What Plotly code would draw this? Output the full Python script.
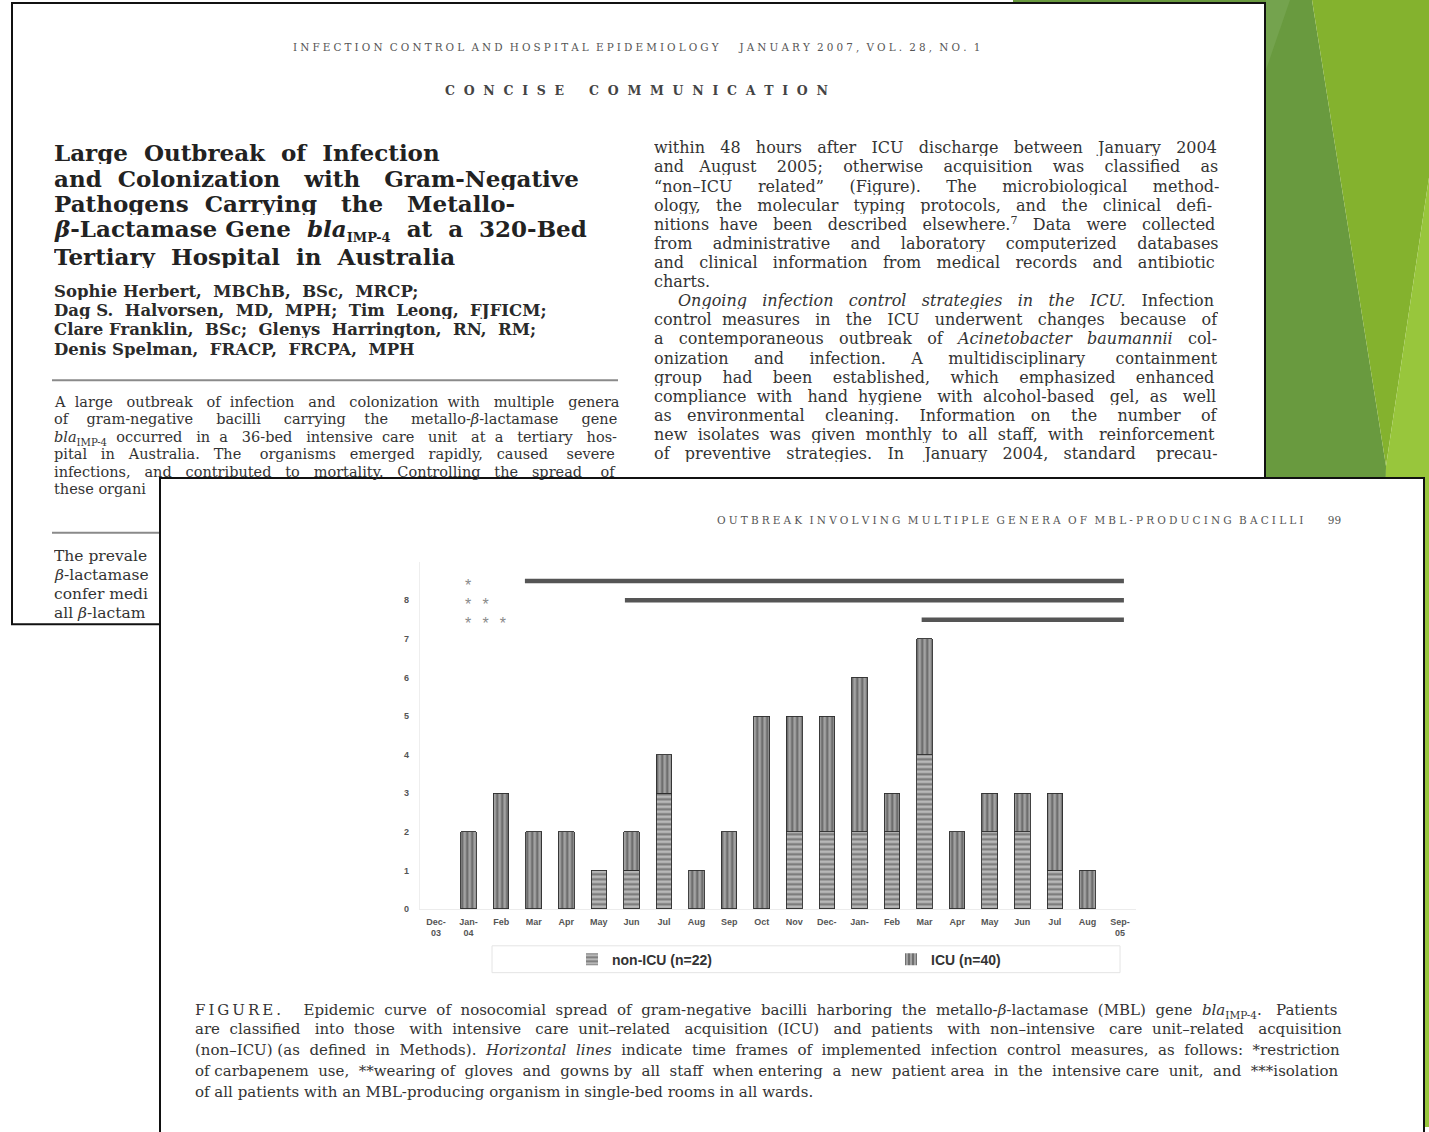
import re
import plotly.graph_objects as go

W, H = 1429, 1132

# ---------------- chart data ----------------
months = ["Dec-<br>03", "Jan-<br>04", "Feb", "Mar", "Apr", "May", "Jun", "Jul", "Aug", "Sep",
          "Oct", "Nov", "Dec-", "Jan-", "Feb", "Mar", "Apr", "May", "Jun", "Jul", "Aug", "Sep-<br>05"]
non_icu = [0, 0, 0, 0, 0, 1, 1, 3, 0, 0, 0, 2, 2, 2, 2, 4, 0, 2, 2, 1, 0, 0]
icu     = [0, 2, 3, 2, 2, 0, 1, 1, 1, 2, 5, 3, 3, 4, 1, 3, 2, 1, 1, 2, 1, 0]
y_ticks = [0, 1, 2, 3, 4, 5, 6, 7, 8]

# infection-control measures (horizontal lines): start / end (month index) and level
measure_marks = ["*", "*\u2002\u2009*", "*\u2002\u2009*\u2002\u2009*"]
measure_start = [2.73, 5.80, 14.91]
measure_end   = [21.12, 21.12, 21.12]
measure_level = [8.5, 8.0, 7.5]

x_idx = list(range(len(months)))


def px(x):
    return x / W


def py(y):
    return 1 - y / H


def spaced(s, sep="\u2009", wordsep="\u2002\u2002"):
    words = s.split(" ")
    return wordsep.join(sep.join(list(w)) for w in words)


# approximate DejaVu Serif advance widths (em) for justification
_W = {'a': .596, 'b': .640, 'c': .561, 'd': .640, 'e': .592, 'f': .370, 'g': .640, 'h': .644, 'i': .320,
      'j': .308, 'k': .605, 'l': .320, 'm': .948, 'n': .644, 'o': .602, 'p': .640, 'q': .640, 'r': .478,
      's': .513, 't': .402, 'u': .644, 'v': .566, 'w': .836, 'x': .566, 'y': .566, 'z': .521,
      'A': .722, 'B': .732, 'C': .731, 'D': .831, 'E': .729, 'F': .690, 'G': .776, 'H': .867, 'I': .402,
      'J': .409, 'K': .743, 'L': .655, 'M': 1.029, 'N': .833, 'O': .790, 'P': .659, 'Q': .790, 'R': .724,
      'S': .653, 'T': .694, 'U': .807, 'V': .722, 'W': 1.05, 'X': .719, 'Y': .681, 'Z': .673,
      ' ': .318, ',': .318, '.': .318, '-': .339, '–': .5, '(': .39, ')': .39, ';': .337, ':': .337,
      '“': .48, '”': .48, '*': .5, 'β': .64, '\u2003': 1.0, '\u2002': .5, '\u2009': .2, '\u200a': .1,
      '\u00a0': .318}


def est_width(text, size, bold=False):
    t = re.sub(r"<sub>(.*?)</sub>", lambda m: "\x01" * len(re.sub(r"<[^>]+>", "", m.group(1))), text)
    t = re.sub(r"<sup>(.*?)</sup>", lambda m: "\x01" * len(m.group(1)), t)
    t = re.sub(r"<[^>]+>", "", t)
    w = 0.0
    for ch in t:
        if ch == "\x01":
            w += 0.42
        elif ch.isdigit():
            w += .636
        else:
            w += _W.get(ch, .6)
    return w * size * (1.1 if bold else 1.0)


def justify(text, size, target, bold=False):
    deficit = target - est_width(text, size, bold)
    n = len(re.findall(r" (?![^<]*>)", text))
    unit = .318 * size
    k = int(round(deficit / unit)) if deficit > 0 else 0
    if n == 0 or k <= 0:
        return text
    parts = re.split(r" (?![^<]*>)", text)
    out = parts[0]
    for i, p in enumerate(parts[1:]):
        extra = (i + 1) * k // n - i * k // n
        out += " " + "\u00a0" * extra + p
    return out


fig = go.Figure()

fig.add_trace(go.Bar(
    x=x_idx, y=non_icu, name="non-ICU (n=22)", width=0.48,
    marker=dict(color="#b8b8b8", line=dict(color="#2e2e2e", width=[0.9 if v else 0 for v in non_icu]),
                pattern=dict(shape="-", size=5, solidity=0.42, fgcolor="#333", bgcolor="#b8b8b8")),
))
fig.add_trace(go.Bar(
    x=x_idx, y=icu, name="ICU (n=40)", width=0.48,
    marker=dict(color="#a0a0a0", line=dict(color="#2e2e2e", width=[0.9 if v else 0 for v in icu]),
                pattern=dict(shape="|", size=5, solidity=0.42, fgcolor="#2a2a2a", bgcolor="#a2a2a2")),
))
for s, e, lv in zip(measure_start, measure_end, measure_level):
    fig.add_trace(go.Scatter(x=[s, e], y=[lv, lv], mode="lines",
                             line=dict(color="#555", width=4.5), showlegend=False, hoverinfo="skip"))

annotations = []
for m, lv in zip(measure_marks, measure_level):
    annotations.append(dict(x=0.82, y=lv, xref="x", yref="y", text=m, showarrow=False,
                            xanchor="left", yanchor="middle", yshift=-4,
                            font=dict(family="Liberation Sans", size=16, color="#8a8a8a")))

# ---------------- page decorations ----------------
shapes = []
shapes.append(dict(type="path", xref="paper", yref="paper", layer="below",
                   path=f"M {px(1013)} {py(0)} L {px(1312)} {py(0)} L {px(1386)} {py(468)} L {px(1380)} {py(1132)} L {px(1013)} {py(1132)} Z",
                   fillcolor="#699a3f", line=dict(width=0)))
shapes.append(dict(type="path", xref="paper", yref="paper", layer="below",
                   path=f"M {px(1266)} {py(0)} L {px(1290)} {py(0)} L {px(1266)} {py(70)} Z",
                   fillcolor="#74a34e", line=dict(width=0)))
shapes.append(dict(type="path", xref="paper", yref="paper", layer="below",
                   path=f"M {px(1312)} {py(0)} L {px(1429)} {py(0)} L {px(1429)} {py(178)} L {px(1386)} {py(468)} Z",
                   fillcolor="#84b22e", line=dict(width=0)))
shapes.append(dict(type="path", xref="paper", yref="paper", layer="below",
                   path=f"M {px(1429)} {py(178)} L {px(1386)} {py(468)} L {px(1370)} {py(1132)} L {px(1429)} {py(1132)} Z",
                   fillcolor="#98c63c", line=dict(width=0)))
# page 1
shapes.append(dict(type="rect", xref="paper", yref="paper", layer="below",
                   x0=px(12), x1=px(1265), y0=py(627), y1=py(3),
                   fillcolor="white", line=dict(color="#111", width=2)))
shapes.append(dict(type="line", xref="paper", yref="paper", layer="below",
                   x0=px(52), x1=px(618), y0=py(382), y1=py(382), line=dict(color="#8a8a8a", width=2)))
shapes.append(dict(type="line", xref="paper", yref="paper", layer="below",
                   x0=px(52), x1=px(300), y0=py(535), y1=py(535), line=dict(color="#8a8a8a", width=2)))
# page 2
shapes.append(dict(type="rect", xref="paper", yref="paper", layer="below",
                   x0=px(160), x1=px(1424), y0=py(1145), y1=py(480),
                   fillcolor="white", line=dict(color="#111", width=2)))
# legend box
shapes.append(dict(type="rect", xref="paper", yref="paper", layer="below",
                   x0=px(492), x1=px(1120), y0=py(977), y1=py(950),
                   fillcolor="white", line=dict(color="#e4e4e4", width=1)))

TXT = "#2b2b2b"
SERIF = "DejaVu Serif"


def add_text(x, y, text, size, anchor="left", color=TXT, family=SERIF, weight="normal", box_h=None, yshift=0):
    a = dict(x=px(x), y=py(y), xref="paper", yref="paper", text=text, showarrow=False,
             xanchor=anchor, yanchor="middle", align=anchor, yshift=yshift,
             font=dict(family=family, size=size, color=color, weight=weight))
    if box_h:
        a["height"] = box_h
    annotations.append(a)


# page 1 header
add_text(636, 47, spaced("INFECTION CONTROL AND HOSPITAL EPIDEMIOLOGY", sep="\u2009\u200a", wordsep="\u2002\u2009")
         + "\u2003\u2003" + spaced("JANUARY 2007, VOL. 28, NO. 1", sep="\u2009\u200a", wordsep="\u2002\u2009"),
         10.4, anchor="center", color="#555")
add_text(636, 91, spaced("CONCISE COMMUNICATION", sep="\u2002\u2009", wordsep="\u2003\u2003"), 12.5,
         anchor="center", color="#444", weight="bold")

title_lines = [
    "Large Outbreak of Infection",
    "and Colonization with Gram-Negative",
    "Pathogens Carrying the Metallo-",
    "<i>β</i>-Lactamase Gene <i>bla</i><sub><span style='font-size:13px'>IMP-4</span></sub> at a 320-Bed",
    "Tertiary Hospital in Australia",
]
title_right = [432, 572, 505, 590, 454]
title_shift = [0, 0, 0, -1.5, -2]
for i, t in enumerate(title_lines):
    add_text(52, 153 + 25.5 * i, justify(t, 23, title_right[i] - 52, bold=True), 23, weight="bold",
             color="#222", box_h=24, yshift=title_shift[i])

author_lines = [
    "Sophie Herbert, MBChB, BSc, MRCP;",
    "Dag S. Halvorsen, MD, MPH; Tim Leong, FJFICM;",
    "Clare Franklin, BSc; Glenys Harrington, RN, RM;",
    "Denis Spelman, FRACP, FRCPA, MPH",
]
author_right = [414, 546, 528, 416]
for i, t in enumerate(author_lines):
    add_text(52, 292 + 19.4 * i, justify(t, 16.5, author_right[i] - 52, bold=True), 16.5, weight="bold",
             color="#2a2a2a", box_h=18)

abstract_lines = [
    "A large outbreak of infection and colonization with multiple genera",
    "of gram-negative bacilli carrying the metallo-<i>β</i>-lactamase gene",
    "<i>bla</i><sub>IMP-4</sub> occurred in a 36-bed intensive care unit at a tertiary hos-",
    "pital in Australia. The organisms emerged rapidly, caused severe",
    "infections, and contributed to mortality. Controlling the spread of",
]
for i, t in enumerate(abstract_lines):
    add_text(52, 403 + 17.6 * i, justify(t, 14.5, 562), 14.5, color="#333", box_h=17,
             yshift=(-2 if "<sub>" in t else 0))
add_text(52, 403 + 17.6 * 5, "these organi", 14.5, color="#333", box_h=17)

intro_lines = ["The prevale", "<i>β</i>-lactamase", "confer medi", "all <i>β</i>-lactam"]
for i, t in enumerate(intro_lines):
    add_text(52, 558 + 19.2 * i, t, 15.5, color="#333", box_h=18)

right_lines = [
    "within 48 hours after ICU discharge between January 2004",
    "and August 2005; otherwise acquisition was classified as",
    "“non–ICU related” (Figure). The microbiological method-",
    "ology, the molecular typing protocols, and the clinical defi-",
    "nitions have been described elsewhere.<sup>7</sup> Data were collected",
    "from administrative and laboratory computerized databases",
    "and clinical information from medical records and antibiotic",
    "charts.",
    "\u2003\u2002<i>Ongoing infection control strategies in the ICU.</i>\u2003Infection",
    "control measures in the ICU underwent changes because of",
    "a contemporaneous outbreak of <i>Acinetobacter baumannii</i> col-",
    "onization and infection. A multidisciplinary containment",
    "group had been established, which emphasized enhanced",
    "compliance with hand hygiene with alcohol-based gel, as well",
    "as environmental cleaning. Information on the number of",
    "new isolates was given monthly to all staff, with reinforcement",
    "of preventive strategies. In January 2004, standard precau-",
]
for i, t in enumerate(right_lines):
    txt = t if t == "charts." else justify(t, 16, 562)
    add_text(652, 148 + 19.2 * i, txt, 16, color="#333", box_h=18)

# page 2 header
add_text(1343, 522, spaced("OUTBREAK INVOLVING MULTIPLE GENERA OF MBL-PRODUCING BACILLI", sep="\u2009\u200a",
                           wordsep="\u2002\u2009") + "\u2003\u2003 99", 10.5, anchor="right", color="#555")

caption_lines = [
    spaced("FIGURE.", wordsep="") + "\u2003\u2002Epidemic curve of nosocomial spread of gram-negative bacilli harboring the metallo-<i>β</i>-lactamase (MBL) gene <i>bla</i><sub>IMP-4</sub>. Patients",
    "are classified into those with intensive care unit–related acquisition (ICU) and patients with non–intensive care unit–related acquisition",
    "(non–ICU) (as defined in Methods). <i>Horizontal lines</i> indicate time frames of implemented infection control measures, as follows: *restriction",
    "of carbapenem use, **wearing of gloves and gowns by all staff when entering a new patient area in the intensive care unit, and ***isolation",
    "of all patients with an MBL-producing organism in single-bed rooms in all wards.",
]
for i, t in enumerate(caption_lines):
    txt = t if i == len(caption_lines) - 1 else justify(t, 15, 1144)
    add_text(193, 1013 + 21 * i, txt, 15, color="#333", box_h=20, yshift=(-2 if "<sub>" in t else 0))

# ---------------- layout ----------------
x_lo, x_hi = 419.7, 1136.3
y_bottom, y_top = 913.0, 913.0 - 9 * 38.75

fig.update_layout(
    width=W, height=H,
    margin=dict(l=0, r=0, t=0, b=0),
    paper_bgcolor="white", plot_bgcolor="rgba(0,0,0,0)",
    barmode="stack", bargap=0.5,
    shapes=shapes, annotations=annotations,
    showlegend=True,
    legend=dict(orientation="h", x=px(572), xanchor="left", y=py(964), yanchor="middle",
                entrywidth=274, entrywidthmode="pixels", itemwidth=30,
                font=dict(family="Liberation Sans", size=14, color="#333", weight="bold"),
                bgcolor="rgba(0,0,0,0)", borderwidth=0, traceorder="normal"),
    xaxis=dict(domain=[px(x_lo), px(x_hi)], range=[-0.5, 21.5],
               tickmode="array", tickvals=x_idx, ticktext=months,
               showgrid=False, zeroline=False, showline=True, linecolor="#ececec", linewidth=1,
               ticks="", ticklabelstandoff=4,
               tickfont=dict(family="Liberation Sans", size=9, color="#555", weight="bold")),
    yaxis=dict(domain=[py(y_bottom), py(y_top)], range=[0, 9],
               tickmode="array", tickvals=y_ticks, ticktext=[str(v) for v in y_ticks],
               showgrid=False, zeroline=False, showline=True, linecolor="#eeeeee", linewidth=1,
               ticks="", ticklabelstandoff=8,
               tickfont=dict(family="Liberation Sans", size=9, color="#555", weight="bold")),
)

fig.write_html("out.html", config={"displayModeBar": False},
               post_script="document.body.style.margin='0';document.body.style.overflow='hidden';")
